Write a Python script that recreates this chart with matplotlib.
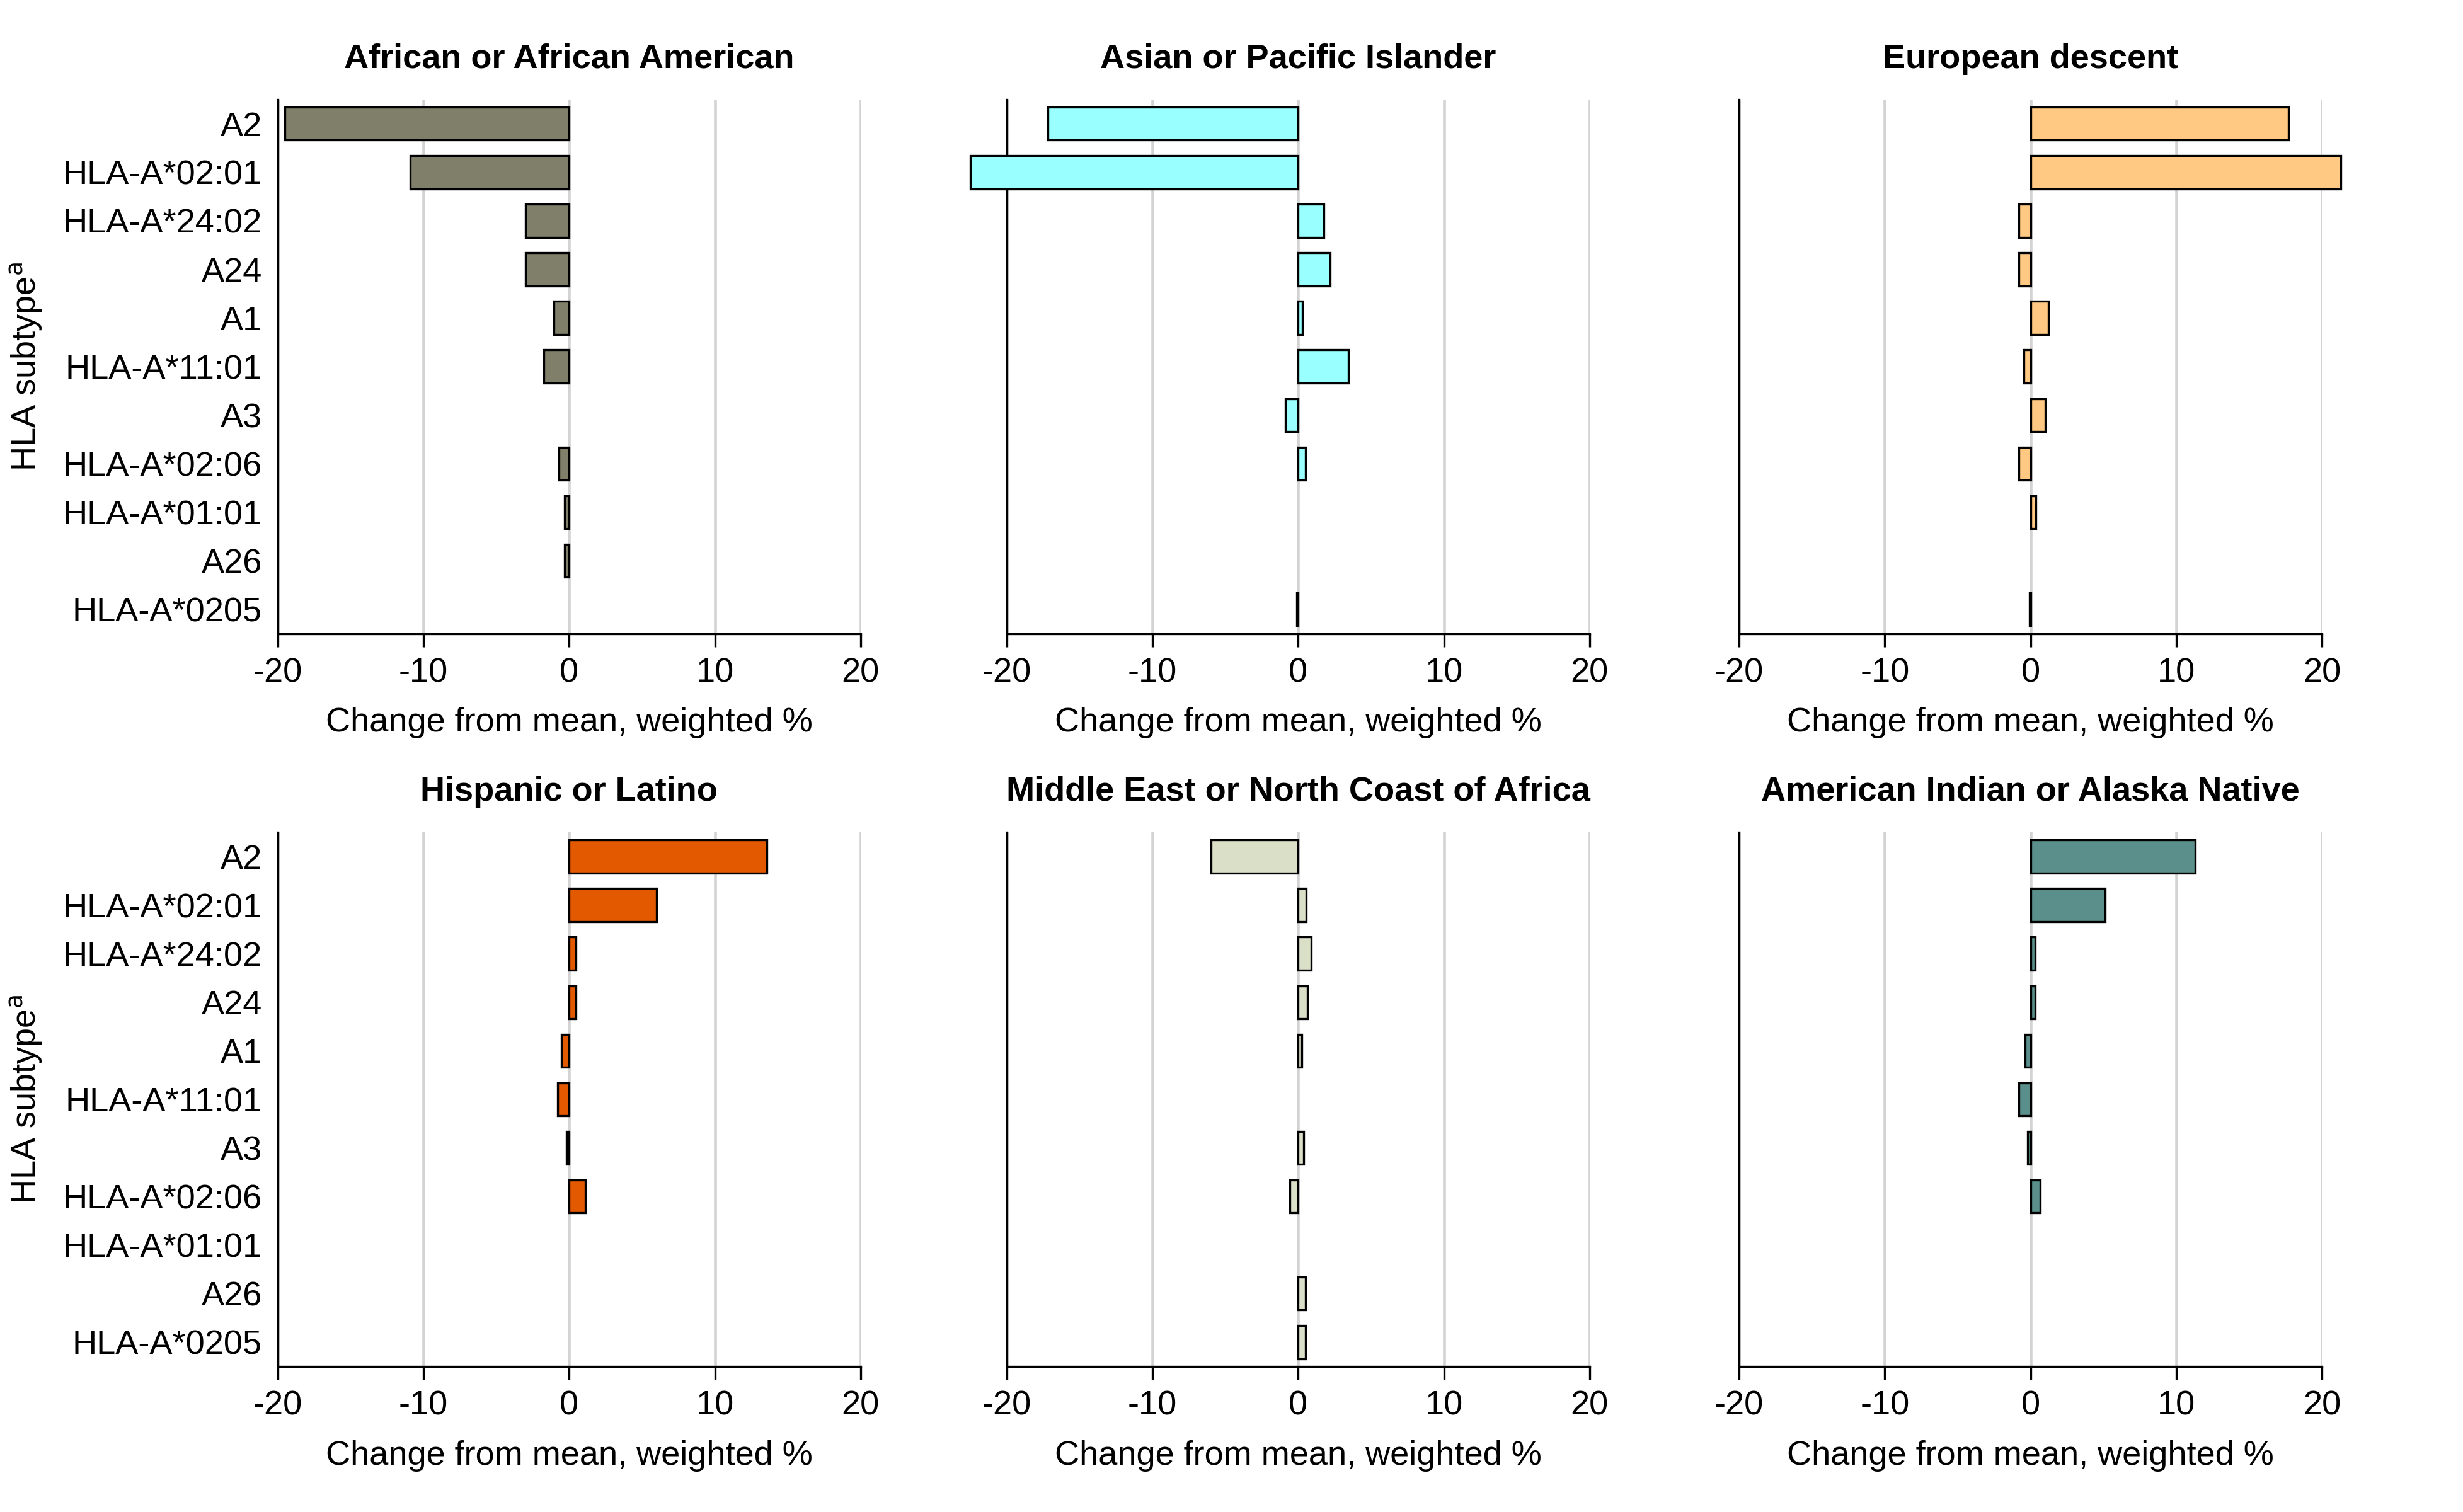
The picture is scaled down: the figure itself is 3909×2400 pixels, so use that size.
import numpy as np
import matplotlib
matplotlib.use("Agg")
import matplotlib.pyplot as plt

plt.rcParams["font.family"] = ["Liberation Sans Narrow", "Liberation Sans", "DejaVu Sans"]

subtypes = ["A2", "HLA-A*02:01", "HLA-A*24:02", "A24", "A1", "HLA-A*11:01",
            "A3", "HLA-A*02:06", "HLA-A*01:01", "A26", "HLA-A*0205"]

nan = np.nan
african = [-19.5, -10.9, -3.0, -3.0, -1.05, -1.75, nan, -0.7, -0.3, -0.3, nan]
asian = [-17.2, -22.5, 1.75, 2.2, 0.3, 3.45, -0.9, 0.5, nan, nan, -0.1]
european = [17.7, 21.3, -0.8, -0.8, 1.25, -0.45, 1.0, -0.8, 0.35, nan, -0.08]
hispanic = [13.55, 6.0, 0.45, 0.45, -0.55, -0.8, -0.2, 1.1, nan, nan, nan]
mideast = [-6.0, 0.55, 0.9, 0.65, 0.25, nan, 0.35, -0.6, nan, 0.5, 0.5]
amindian = [11.3, 5.1, 0.3, 0.3, -0.35, -0.8, -0.2, 0.65, nan, nan, nan]

groups = ["African or African American", "Asian or Pacific Islander", "European descent",
          "Hispanic or Latino", "Middle East or North Coast of Africa",
          "American Indian or Alaska Native"]
values = [african, asian, european, hispanic, mideast, amindian]
colors = ["#807f69", "#99ffff", "#ffc883", "#e35900", "#dadfc7", "#5a8f8b"]

fig = plt.figure(figsize=(3909 / 300, 2400 / 300), dpi=300)

lefts = [0.1128, 0.4088, 0.7061]
bottoms = [0.581, 0.0963]
w, h = 0.2366, 0.3533

y = np.arange(len(subtypes))
for i, (name, vals, col) in enumerate(zip(groups, values, colors)):
    ax = fig.add_axes([lefts[i % 3], bottoms[i // 3], w, h])
    bars = ax.barh(y, vals, height=0.68, color=col, edgecolor="black", linewidth=0.8, zorder=3)
    for b in bars:
        b.set_clip_on(False)
    ax.set_xlim(-20, 20)
    ax.set_ylim(len(subtypes) - 0.5, -0.5)
    ax.set_xticks([-20, -10, 0, 10, 20])
    ax.set_xticklabels(["-20", "-10", "0", "10", "20"])
    ax.xaxis.grid(True, color="#d3d3d3", linewidth=1.1, zorder=0)
    ax.set_axisbelow(True)
    for s in ["top", "right"]:
        ax.spines[s].set_visible(False)
    ax.spines["left"].set_linewidth(0.8)
    ax.spines["bottom"].set_linewidth(0.8)
    ax.tick_params(axis="x", length=5, width=0.8, labelsize=13, pad=4)
    ax.tick_params(axis="y", length=0, labelsize=13, pad=6)
    ax.set_yticks(y)
    if i % 3 == 0:
        ax.set_yticklabels(subtypes)
        ax.set_ylabel("HLA subtype$^{\\mathrm{a}}$", fontsize=13, labelpad=7)
    else:
        ax.set_yticklabels([])
    ax.set_xlabel("Change from mean, weighted %", fontsize=13, labelpad=7)
    ax.set_title(name, fontsize=13, fontweight="bold", pad=12)

fig.savefig("out.png", dpi=300)
